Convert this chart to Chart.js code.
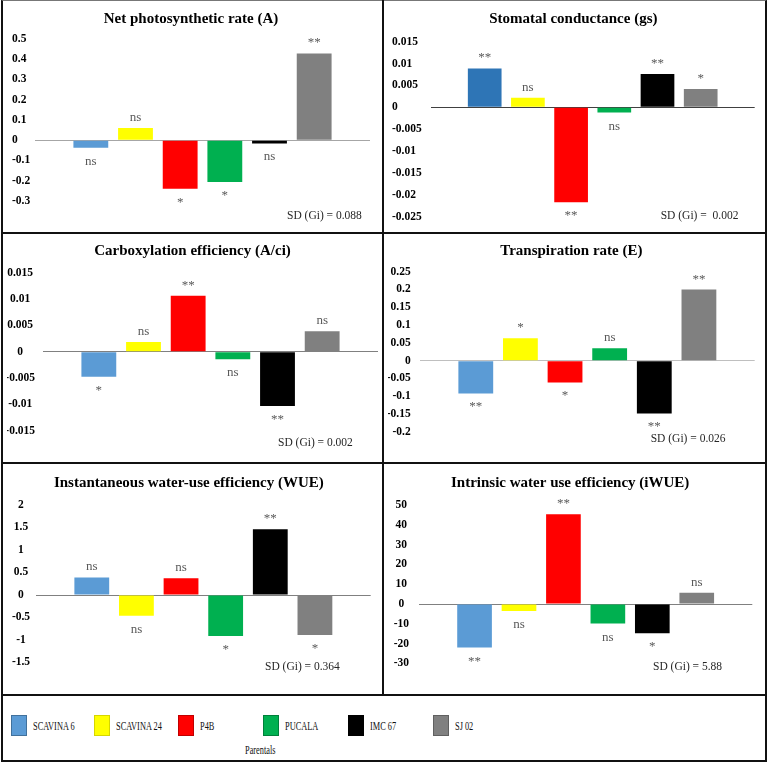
<!DOCTYPE html>
<html><head><meta charset="utf-8">
<script src="https://cdn.jsdelivr.net/npm/chart.js@4.4.0/dist/chart.umd.min.js"></script>
<style>
html,body{margin:0;padding:0;background:#fff;}
#wrap{position:relative;width:768px;height:763px;overflow:hidden;background:#fff;font-family:"Liberation Serif","Times New Roman",serif;}
canvas{position:absolute;}
.ln{position:absolute;background:#111;z-index:5;}
#frame{position:absolute;left:1px;top:0;width:766px;height:762px;box-sizing:border-box;border:2px solid #111;border-top:1px solid #777;z-index:5;}
.sw{position:absolute;width:16px;height:21px;box-sizing:border-box;}
.lt{position:absolute;font-size:13px;line-height:13px;color:#111;white-space:nowrap;transform:scaleX(0.64);transform-origin:0 50%;}
</style></head><body>
<div id="wrap">
<canvas id="c1" width="379" height="231" style="left:3px;top:1px"></canvas>
<canvas id="c2" width="380" height="231" style="left:384px;top:1px"></canvas>
<canvas id="c3" width="379" height="228" style="left:3px;top:234px"></canvas>
<canvas id="c4" width="380" height="228" style="left:384px;top:234px"></canvas>
<canvas id="c5" width="379" height="230" style="left:3px;top:464px"></canvas>
<canvas id="c6" width="380" height="230" style="left:384px;top:464px"></canvas>
<div id="frame"></div>
<div class="ln" style="left:382px;top:0;width:2px;height:695px"></div>
<div class="ln" style="left:1px;top:232px;width:766px;height:2px"></div>
<div class="ln" style="left:1px;top:462px;width:766px;height:2px"></div>
<div class="ln" style="left:1px;top:694px;width:766px;height:2px"></div>
<div id="legend"></div>
</div>
<script>
// ---------- data ----------
const parentals = ['SCAVINA 6', 'SCAVINA 24', 'P4B', 'PUCALA', 'IMC 67', 'SJ 02'];
const legendTitle = 'Parentals';

const netPhotoTitle = 'Net photosynthetic rate (A)';
const netPhotoValues = [-0.037, 0.061, -0.239, -0.206, -0.016, 0.429];
const netPhotoSig = ['ns', 'ns', '*', '*', 'ns', '**'];
const netPhotoSD = 'SD (Gi) = 0.088';
const netPhotoAxis = [-0.3, 0.5, 0.1];

const stomatalTitle = 'Stomatal conductance (gs)';
const stomatalValues = [0.0089, 0.0022, -0.0217, -0.0012, 0.0076, 0.0042];
const stomatalSig = ['**', 'ns', '**', 'ns', '**', '*'];
const stomatalSD = 'SD (Gi) =  0.002';
const stomatalAxis = [-0.025, 0.015, 0.005];

const carboxTitle = 'Carboxylation efficiency (A/ci)';
const carboxValues = [-0.00475, 0.00184, 0.01063, -0.00144, -0.0103, 0.00387];
const carboxSig = ['*', 'ns', '**', 'ns', '**', 'ns'];
const carboxSD = 'SD (Gi) = 0.002';
const carboxAxis = [-0.015, 0.015, 0.005];

const transpTitle = 'Transpiration rate (E)';
const transpValues = [-0.092, 0.063, -0.061, 0.035, -0.148, 0.200];
const transpSig = ['**', '*', '*', 'ns', '**', '**'];
const transpSD = 'SD (Gi) = 0.026';
const transpAxis = [-0.2, 0.25, 0.05];

const wueTitle = 'Instantaneous water-use efficiency (WUE)';
const wueValues = [0.39, -0.46, 0.37, -0.91, 1.46, -0.89];
const wueSig = ['ns', 'ns', 'ns', '*', '**', '*'];
const wueSD = 'SD (Gi) = 0.364';
const wueAxis = [-1.5, 2, 0.5];

const iwueTitle = 'Intrinsic water use efficiency (iWUE)';
const iwueValues = [-22.0, -3.5, 45.3, -9.9, -14.8, 5.7];
const iwueSig = ['**', 'ns', '**', 'ns', '*', 'ns'];
const iwueSD = 'SD (Gi) = 5.88';
const iwueAxis = [-30, 50, 10];

// ---------- styles ----------
const barColors = ['#5B9BD5', '#FFFF00', '#FF0000', '#00B050', '#000000', '#808080'];
const barColorsDarkBlue = ['#2E75B6', '#FFFF00', '#FF0000', '#00B050', '#000000', '#808080'];
const swatchBorders = ['#41719C', '#D6D600', '#C00000', '#00803A', '#000000', '#606060'];
const SERIF = '"Liberation Serif", "Times New Roman", serif';

const panels = [
  {id:'c1', title:netPhotoTitle, values:netPhotoValues, sig:netPhotoSig, sd:netPhotoSD, axis:netPhotoAxis, colors:barColors,
   pad:{left:9, right:12, bottom:31}, yW:23, align:'far', tickPad:3, tTop:9, tBot:11, sdX:284, sdY:215, zero:'#A6A6A6'},
  {id:'c2', title:stomatalTitle, values:stomatalValues, sig:stomatalSig, sd:stomatalSD, axis:stomatalAxis, colors:barColorsDarkBlue,
   pad:{left:8, right:9.3, bottom:15.2}, yW:38.7, align:'far', tickPad:3, tTop:9, tBot:13.7, sdX:276.7, sdY:215, zero:'#404040'},
  {id:'c3', title:carboxTitle, values:carboxValues, sig:carboxSig, sd:carboxSD, axis:carboxAxis, colors:barColors,
   pad:{left:4, right:4, bottom:31.3}, yW:36, align:'center', tickPad:8, tTop:7.7, tBot:13, sdX:275, sdY:209.3, zero:'#808080'},
  {id:'c4', title:transpTitle, values:transpValues, sig:transpSig, sd:transpSD, axis:transpAxis, colors:barColors,
   pad:{left:4, right:9.3, bottom:30.1}, yW:32, align:'near', tickPad:9.3, tTop:7.7, tBot:12, sdX:266.7, sdY:205.3, zero:'#BFBFBF'},
  {id:'c5', title:wueTitle, values:wueValues, sig:wueSig, sd:wueSD, axis:wueAxis, colors:barColors,
   pad:{left:4, right:11.3, bottom:31.5}, yW:29, align:'center', tickPad:5.9, tTop:10.3, tBot:12.7, sdX:262, sdY:202.7, zero:'#808080'},
  {id:'c6', title:iwueTitle, values:iwueValues, sig:iwueSig, sd:iwueSD, axis:iwueAxis, colors:barColors,
   pad:{left:4, right:11.7, bottom:30.6}, yW:31, align:'center', tickPad:10, tTop:10.3, tBot:12.7, sdX:269, sdY:202.7, zero:'#808080'}
];

function fmt(v){ const r = parseFloat(Number(v).toFixed(6)); return String(r === 0 ? 0 : r); }

panels.forEach(p => {
  const sigPlugin = {
    id: 'sigLabels',
    afterDatasetsDraw(chart) {
      const ctx = chart.ctx;
      ctx.save();
      ctx.font = '13px ' + SERIF;
      ctx.fillStyle = '#595959';
      ctx.textAlign = 'center';
      ctx.textBaseline = 'alphabetic';
      p.sig.forEach((lab, i) => {
        const bar = chart.getDatasetMeta(i).data[0];
        const v = chart.data.datasets[i].data[0];
        const y = v >= 0 ? bar.y - 7 : bar.y + 17;
        ctx.fillText(lab, bar.x, y);
      });
      ctx.font = '11.5px ' + SERIF;
      ctx.fillStyle = '#262626';
      ctx.textAlign = 'left';
      ctx.textBaseline = 'middle';
      ctx.fillText(p.sd, p.sdX, p.sdY);
      ctx.restore();
    }
  };
  new Chart(document.getElementById(p.id), {
    type: 'bar',
    data: {
      labels: [''],
      datasets: parentals.map((name, i) => ({
        label: name,
        data: [p.values[i]],
        backgroundColor: p.colors[i],
        borderWidth: 0,
        categoryPercentage: 0.8,
        barPercentage: 0.78
      }))
    },
    options: {
      responsive: false,
      animation: false,
      devicePixelRatio: 1,
      layout: { padding: { left: p.pad.left, right: p.pad.right, top: 0, bottom: p.pad.bottom } },
      plugins: {
        legend: { display: false },
        tooltip: { enabled: false },
        title: {
          display: true, text: p.title, color: '#000',
          font: { family: SERIF, size: 15, weight: 'bold', lineHeight: 1.2 },
          padding: { top: p.tTop, bottom: p.tBot }
        }
      },
      scales: {
        x: { display: false },
        y: {
          min: p.axis[0], max: p.axis[1],
          afterFit: s => { s.width = p.yW; },
          border: { display: false },
          grid: {
            drawTicks: false,
            lineWidth: 1,
            color: c => (c.tick && Math.abs(c.tick.value) < 1e-12) ? p.zero : 'rgba(0,0,0,0)'
          },
          ticks: {
            stepSize: p.axis[2],
            crossAlign: p.align,
            padding: p.tickPad,
            color: '#000',
            font: { family: SERIF, size: 11.5, weight: 'bold' },
            callback: v => fmt(v)
          }
        }
      }
    },
    plugins: [sigPlugin]
  });
});

// ---------- shared legend ----------
const legend = document.getElementById('legend');
const swX = [11, 94, 178, 263, 348, 433];
parentals.forEach((name, i) => {
  const sw = document.createElement('div');
  sw.className = 'sw';
  sw.style.left = swX[i] + 'px';
  sw.style.top = '715px';
  sw.style.background = barColors[i];
  sw.style.border = '1px solid ' + swatchBorders[i];
  legend.appendChild(sw);
  const t = document.createElement('div');
  t.className = 'lt';
  t.textContent = name;
  t.style.left = (swX[i] + 22) + 'px';
  t.style.top = '719px';
  legend.appendChild(t);
});
const lt = document.createElement('div');
lt.className = 'lt';
lt.textContent = legendTitle;
lt.style.left = '245px';
lt.style.top = '743px';
legend.appendChild(lt);
</script>
</body></html>
